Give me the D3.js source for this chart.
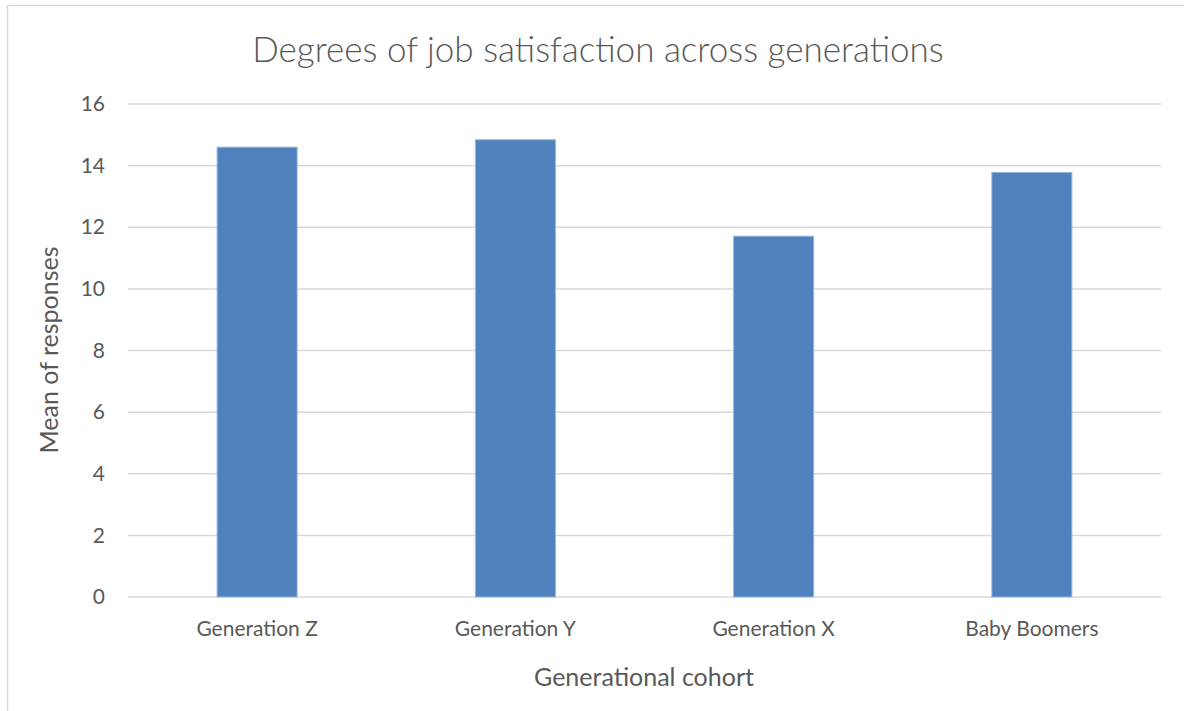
<!DOCTYPE html>
<html>
<head>
<meta charset="utf-8">
<script src="https://cdn.jsdelivr.net/npm/d3@7"></script>
<style>
  body { margin: 0; background: #fff; }
  text { font-family: Lato, "Open Sans", sans-serif; fill: #595959; }
</style>
</head>
<body>
<svg id="chart" width="1184" height="711"></svg>
<script>
var cohorts = ["Generation Z", "Generation Y", "Generation X", "Baby Boomers"];
var means = [14.6, 14.84, 11.71, 13.78];
var yTicks = [0, 2, 4, 6, 8, 10, 12, 14, 16];

var svg = d3.select('#chart');

// chart area border (only top/left visible in the crop)
svg.append('rect')
  .attr('x', 7.5).attr('y', 5.5)
  .attr('width', 1300).attr('height', 800)
  .style('fill', 'none')
  .style('stroke', '#d9d9d9')
  .style('stroke-width', 1.5);

var margin = {left: 128, right: 1161, top: 104, bottom: 597};

var x = d3.scaleBand()
  .domain(cohorts)
  .range([margin.left, margin.right])
  .paddingInner(0.69)
  .paddingOuter(0.345);

var y = d3.scaleLinear()
  .domain([0, 16])
  .range([margin.bottom, margin.top]);

// gridlines
svg.append('g')
  .selectAll('line.grid')
  .data(yTicks)
  .enter()
  .append('line')
  .classed('grid', true)
  .attr('x1', margin.left)
  .attr('x2', margin.right)
  .attr('y1', d => y(d))
  .attr('y2', d => y(d))
  .style('stroke', '#d9d9d9')
  .style('stroke-width', 1.5);

// y axis labels
var yAxis = d3.axisLeft(y).tickValues(yTicks).tickSize(0).tickPadding(23);
var gy = svg.append('g')
  .attr('transform', 'translate(' + margin.left + ',0)')
  .call(yAxis);
gy.select('.domain').remove();
gy.selectAll('text')
  .style('font-size', '21px')
  .style('font-family', 'Lato, sans-serif')
  .style('fill', '#595959');

// bars
svg.append('g')
  .selectAll('rect.bar')
  .data(means)
  .enter()
  .append('rect')
  .classed('bar', true)
  .attr('x', (d, i) => x(cohorts[i]))
  .attr('y', d => y(d))
  .attr('width', x.bandwidth())
  .attr('height', d => y(0) - y(d))
  .style('fill', '#4f81bd')
  .style('stroke', '#9cb8dd')
  .style('stroke-width', 1);

// x axis labels
var xAxis = d3.axisBottom(x).tickSize(0).tickPadding(24);
var gx = svg.append('g')
  .attr('transform', 'translate(0,' + margin.bottom + ')')
  .call(xAxis);
gx.select('.domain').remove();
gx.selectAll('text')
  .style('font-size', '21px')
  .style('font-family', 'Lato, sans-serif')
  .style('fill', '#595959');

// title
svg.append('text')
  .attr('x', 598)
  .attr('y', 62)
  .attr('text-anchor', 'middle')
  .style('font-size', '35px')
  .style('font-weight', 300)
  .text('Degrees of job satisfaction across generations');

// axis titles
svg.append('text')
  .attr('x', 644)
  .attr('y', 686)
  .attr('text-anchor', 'middle')
  .style('font-size', '25px')
  .text('Generational cohort');

svg.append('text')
  .attr('transform', 'translate(58,350) rotate(-90)')
  .attr('text-anchor', 'middle')
  .style('font-size', '25px')
  .text('Mean of responses');
</script>
</body>
</html>
